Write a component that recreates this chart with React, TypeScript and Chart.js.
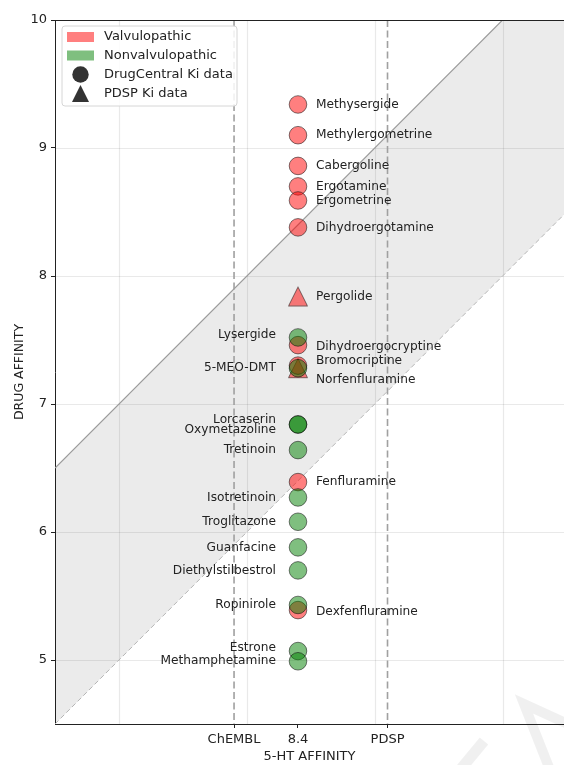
import React, { useEffect, useRef } from 'react';
import { Chart, registerables } from 'chart.js';

Chart.register(...registerables);

// ---------------- data ----------------
const drugNames = [
  'Methysergide', 'Methylergometrine', 'Cabergoline', 'Ergotamine', 'Ergometrine',
  'Dihydroergotamine', 'Pergolide', 'Lysergide', 'Dihydroergocryptine', 'Bromocriptine',
  '5-MEO-DMT', 'Norfenfluramine', 'Lorcaserin', 'Oxymetazoline', 'Tretinoin',
  'Fenfluramine', 'Isotretinoin', 'Troglitazone', 'Guanfacine', 'Diethylstilbestrol',
  'Ropinirole', 'Dexfenfluramine', 'Estrone', 'Methamphetamine',
];
const drugAffinity = [
  9.34, 9.10, 8.86, 8.70, 8.59,
  8.38, 7.84, 7.52, 7.46, 7.30,
  7.28, 7.28, 6.84, 6.84, 6.64,
  6.39, 6.27, 6.08, 5.88, 5.70,
  5.43, 5.39, 5.07, 4.99,
];
const isValvulopathic = [
  true, true, true, true, true,
  true, true, false, true, true,
  false, true, false, false, false,
  true, false, false, false, false,
  false, true, false, false,
];
const kiSource = [
  'DrugCentral', 'DrugCentral', 'DrugCentral', 'DrugCentral', 'DrugCentral',
  'DrugCentral', 'PDSP', 'DrugCentral', 'DrugCentral', 'DrugCentral',
  'DrugCentral', 'PDSP', 'DrugCentral', 'DrugCentral', 'DrugCentral',
  'DrugCentral', 'DrugCentral', 'DrugCentral', 'DrugCentral', 'DrugCentral',
  'DrugCentral', 'DrugCentral', 'DrugCentral', 'DrugCentral',
];
const serotoninAffinity = 8.4;
const chemblReference = 7.9;
const pdspReference = 9.1;
const xTickValues = [chemblReference, serotoninAffinity, pdspReference];
const xTickLabels = ['ChEMBL', '8.4', 'PDSP'];
const xGridValues = [7, 8, 9, 10];
const yTickValues = [5, 6, 7, 8, 9, 10];
const bandWidth = 2;
const legendLabels = ['Valvulopathic', 'Nonvalvulopathic', 'DrugCentral Ki data', 'PDSP Ki data'];

// label vertical nudges (px) to avoid overlap, styling only
const labelNudge = [
  0, 0, 0, 0, 0,
  0, 0, -3, 2, -5,
  0, 12, -5, 5, 0,
  0, 0, 0, 0, 0,
  0, 2, -3, 0,
];

// ---------------- styles ----------------
const FONT = '"DejaVu Sans", "Liberation Sans", sans-serif';
const RED = 'rgba(255,0,0,0.5)';
const GREEN = 'rgba(0,128,0,0.5)';
const EDGE = 'rgba(0,0,0,0.5)';
const TEXT = '#222';

function makeTriangle(fill: string, stroke: string, size: number): HTMLCanvasElement {
  const c = document.createElement('canvas');
  const s = size + 3;
  c.width = s;
  c.height = s;
  const g = c.getContext('2d')!;
  const pad = 1.5;
  g.beginPath();
  g.moveTo(s / 2, pad);
  g.lineTo(s - pad, s - pad);
  g.lineTo(pad, s - pad);
  g.closePath();
  g.fillStyle = fill;
  g.fill();
  g.strokeStyle = stroke;
  g.lineWidth = 1;
  g.stroke();
  return c;
}

function buildDataset(valv: boolean, source: string) {
  const pts: { x: number; y: number; i: number }[] = [];
  drugNames.forEach((_, i) => {
    if (isValvulopathic[i] === valv && kiSource[i] === source) {
      pts.push({ x: serotoninAffinity, y: drugAffinity[i], i });
    }
  });
  const fill = valv ? RED : GREEN;
  const tri = source === 'PDSP';
  return {
    label: (valv ? 'Valvulopathic' : 'Nonvalvulopathic') + ' ' + source,
    data: pts,
    pointStyle: tri ? (makeTriangle(fill, EDGE, 19) as any) : 'circle',
    pointRadius: 8.8,
    backgroundColor: fill,
    borderColor: EDGE,
    borderWidth: 1,
    showLine: false,
  };
}

const decorPlugin = {
  id: 'decor',
  beforeDatasetsDraw(chart: any) {
    const { ctx, chartArea: a, scales } = chart;
    const xs = scales.x;
    const ys = scales.y;
    const X = (v: number) => xs.getPixelForValue(v);
    const Y = (v: number) => ys.getPixelForValue(v);
    const x0 = xs.min;
    const x1 = xs.max;
    ctx.save();
    ctx.beginPath();
    ctx.rect(a.left, a.top, a.right - a.left, a.bottom - a.top);
    ctx.clip();
    // band
    ctx.beginPath();
    ctx.moveTo(X(x0), Y(x0));
    ctx.lineTo(X(x1), Y(x1));
    ctx.lineTo(X(x1), Y(x1 - bandWidth));
    ctx.lineTo(X(x0), Y(x0 - bandWidth));
    ctx.closePath();
    ctx.fillStyle = 'rgba(0,0,0,0.078)';
    ctx.fill();
    // grid
    ctx.strokeStyle = 'rgba(0,0,0,0.085)';
    ctx.lineWidth = 1.2;
    xGridValues.forEach((v) => {
      const px = Math.round(X(v)) + 0.5;
      ctx.beginPath();
      ctx.moveTo(px, a.top);
      ctx.lineTo(px, a.bottom);
      ctx.stroke();
    });
    yTickValues.forEach((v) => {
      const py = Math.round(Y(v)) + 0.5;
      ctx.beginPath();
      ctx.moveTo(a.left, py);
      ctx.lineTo(a.right, py);
      ctx.stroke();
    });
    // upper diagonal
    ctx.strokeStyle = '#9a9a9a';
    ctx.lineWidth = 1.2;
    ctx.beginPath();
    ctx.moveTo(X(x0), Y(x0));
    ctx.lineTo(X(x1), Y(x1));
    ctx.stroke();
    // lower diagonal
    ctx.strokeStyle = '#b4b4b4';
    ctx.lineWidth = 1;
    ctx.setLineDash([5, 3]);
    ctx.beginPath();
    ctx.moveTo(X(x0), Y(x0 - bandWidth));
    ctx.lineTo(X(x1), Y(x1 - bandWidth));
    ctx.stroke();
    // reference verticals
    ctx.strokeStyle = '#a0a0a0';
    ctx.lineWidth = 1.6;
    ctx.setLineDash([7, 3.5]);
    [chemblReference, pdspReference].forEach((v) => {
      const px = X(v);
      ctx.beginPath();
      ctx.moveTo(px, a.top);
      ctx.lineTo(px, a.bottom);
      ctx.stroke();
    });
    ctx.restore();
    // top spine
    ctx.save();
    ctx.strokeStyle = '#222';
    ctx.lineWidth = 1;
    ctx.beginPath();
    ctx.moveTo(a.left, Math.round(a.top) + 0.5);
    ctx.lineTo(a.right, Math.round(a.top) + 0.5);
    ctx.stroke();
    ctx.restore();
  },
  afterDatasetsDraw(chart: any) {
    const { ctx, scales } = chart;
    const xs = scales.x;
    const ys = scales.y;
    ctx.save();
    ctx.font = '12.2px ' + FONT;
    ctx.fillStyle = TEXT;
    ctx.textBaseline = 'middle';
    drugNames.forEach((name, i) => {
      const px = xs.getPixelForValue(serotoninAffinity);
      const py = ys.getPixelForValue(drugAffinity[i]) + labelNudge[i];
      if (isValvulopathic[i]) {
        ctx.textAlign = 'left';
        ctx.fillText(name, px + 18, py);
      } else {
        ctx.textAlign = 'right';
        ctx.fillText(name, px - 22, py);
      }
    });
    ctx.restore();

    // legend
    ctx.save();
    const bx = 62, by = 26, bw = 175, bh = 80, r = 3;
    ctx.beginPath();
    ctx.moveTo(bx + r, by);
    ctx.arcTo(bx + bw, by, bx + bw, by + bh, r);
    ctx.arcTo(bx + bw, by + bh, bx, by + bh, r);
    ctx.arcTo(bx, by + bh, bx, by, r);
    ctx.arcTo(bx, by, bx + bw, by, r);
    ctx.closePath();
    ctx.fillStyle = 'rgba(255,255,255,0.85)';
    ctx.fill();
    ctx.strokeStyle = '#d6d6d6';
    ctx.lineWidth = 1;
    ctx.stroke();
    const rows = [37, 55.5, 74.5, 93.5];
    ctx.fillStyle = RED;
    ctx.fillRect(67, rows[0] - 5, 27, 10);
    ctx.fillStyle = GREEN;
    ctx.fillRect(67, rows[1] - 5, 27, 10);
    ctx.fillStyle = '#333';
    ctx.beginPath();
    ctx.arc(80.5, rows[2], 8.2, 0, Math.PI * 2);
    ctx.fill();
    ctx.beginPath();
    ctx.moveTo(80.5, rows[3] - 8.5);
    ctx.lineTo(89, rows[3] + 8.5);
    ctx.lineTo(72, rows[3] + 8.5);
    ctx.closePath();
    ctx.fill();
    ctx.font = '13px ' + FONT;
    ctx.fillStyle = TEXT;
    ctx.textAlign = 'left';
    ctx.textBaseline = 'middle';
    legendLabels.forEach((t, k) => ctx.fillText(t, 104, rows[k]));
    ctx.restore();
  },
  afterDraw(chart: any) {
    // faint watermark in the lower right corner
    const { ctx } = chart;
    ctx.save();
    ctx.strokeStyle = 'rgba(0,0,0,0.06)';
    ctx.lineWidth = 10;
    ctx.lineJoin = 'miter';
    ctx.beginPath();
    ctx.moveTo(570, 725);
    ctx.lineTo(524, 704);
    ctx.lineTo(550, 770);
    ctx.stroke();
    ctx.lineWidth = 11;
    ctx.beginPath();
    ctx.moveTo(484, 741);
    ctx.lineTo(460, 770);
    ctx.stroke();
    ctx.restore();
  },
};

export default function App() {
  const ref = useRef<HTMLCanvasElement>(null);
  useEffect(() => {
    const canvas = ref.current!;
    const chart = new Chart(canvas, {
      type: 'scatter',
      data: {
        datasets: [
          buildDataset(false, 'DrugCentral'),
          buildDataset(true, 'DrugCentral'),
          buildDataset(true, 'PDSP'),
          buildDataset(false, 'PDSP'),
        ] as any,
      },
      options: {
        responsive: false,
        animation: false,
        devicePixelRatio: 1,
        layout: { autoPadding: false, padding: { top: 20, right: 0, bottom: 0, left: 0 } },
        plugins: {
          legend: { display: false },
          tooltip: { enabled: false },
        },
        scales: {
          x: {
            type: 'linear',
            min: 6.5,
            max: 10.48,
            afterBuildTicks: (s: any) => {
              s.ticks = xTickValues.map((v) => ({ value: v }));
            },
            afterFit: (s: any) => {
              s.height = 41;
              s.paddingLeft = 0;
              s.paddingRight = 0;
            },
            ticks: {
              autoSkip: false,
              maxRotation: 0,
              padding: 4,
              color: TEXT,
              font: { family: FONT, size: 13 },
              callback: (_v: any, idx: number) => xTickLabels[idx],
            },
            grid: { drawOnChartArea: false, tickLength: 4, tickColor: '#222', tickWidth: 1 },
            border: { color: '#222', width: 1 },
            title: {
              display: true,
              text: '5-HT AFFINITY',
              color: TEXT,
              font: { family: FONT, size: 13 },
              padding: { top: 0, bottom: 1 },
            },
          },
          y: {
            type: 'linear',
            min: 4.5,
            max: 10,
            afterBuildTicks: (s: any) => {
              s.ticks = yTickValues.map((v) => ({ value: v }));
            },
            afterFit: (s: any) => {
              s.width = 55;
              s.paddingTop = 0;
              s.paddingBottom = 0;
            },
            ticks: {
              padding: 4,
              color: TEXT,
              font: { family: FONT, size: 13 },
              callback: (v: any) => String(v),
            },
            grid: { drawOnChartArea: false, tickLength: 4, tickColor: '#222', tickWidth: 1 },
            border: { color: '#222', width: 1 },
            title: {
              display: true,
              text: 'DRUG AFFINITY',
              color: TEXT,
              font: { family: FONT, size: 12.5 },
              padding: { top: 12, bottom: 0 },
            },
          },
        },
      } as any,
      plugins: [decorPlugin],
    });
    return () => chart.destroy();
  }, []);
  return (
    <div style={{ position: 'fixed', left: 0, top: 0, width: 564, height: 765, background: '#fff', overflow: 'hidden' }}>
      <canvas ref={ref} width={564} height={765} style={{ display: 'block', width: 564, height: 765 }} />
    </div>
  );
}
